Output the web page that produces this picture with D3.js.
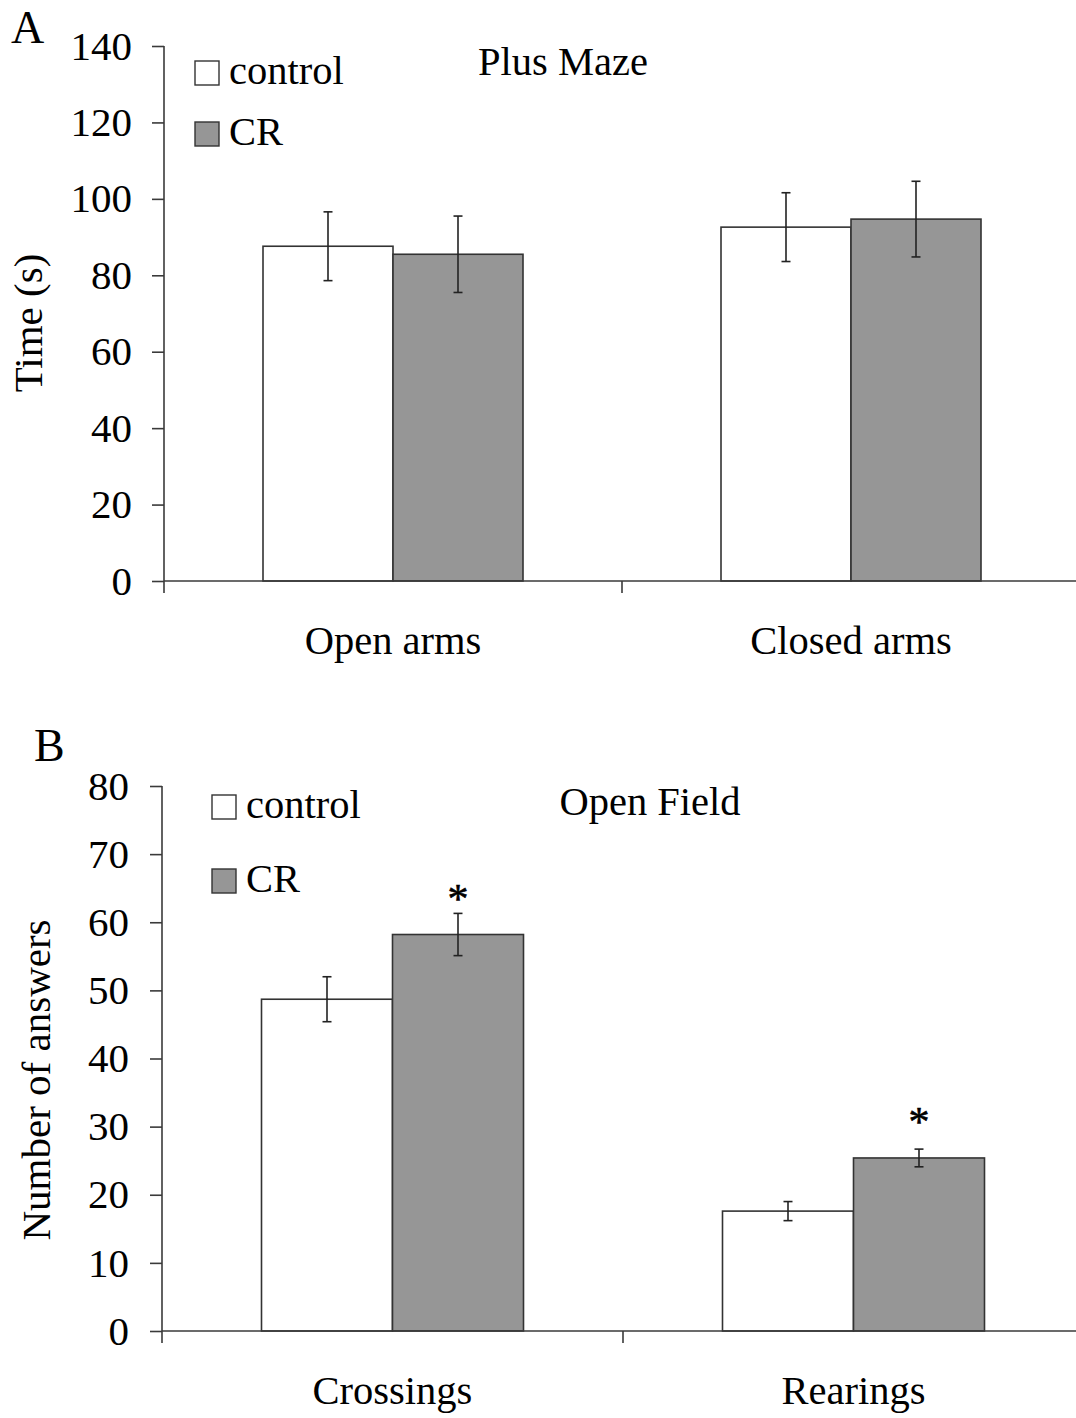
<!DOCTYPE html>
<html>
<head>
<meta charset="utf-8">
<script src="https://cdn.jsdelivr.net/npm/d3@7"></script>
<style>
  html, body { margin: 0; padding: 0; background: #fff; }
  svg { display: block; }
  text { font-family: "Liberation Serif", "Times New Roman", serif; fill: #000; }
</style>
</head>
<body>
<script>
// ---- Data ----
const seriesNames = ["control", "CR"];
const seriesColors = ["#ffffff", "#969696"];

// Panel A: Plus Maze
const categoriesA = ["Open arms", "Closed arms"];
const controlA = [87.6, 92.6];
const controlErrA = [9.0, 9.0];
const crA = [85.5, 94.7];
const crErrA = [10.0, 9.9];
const sigA = [false, false];
const yTicksA = [0, 20, 40, 60, 80, 100, 120, 140];

// Panel B: Open Field
const categoriesB = ["Crossings", "Rearings"];
const controlB = [48.7, 17.6];
const controlErrB = [3.3, 1.4];
const crB = [58.2, 25.4];
const crErrB = [3.1, 1.3];
const sigB = [true, true];
const yTicksB = [0, 10, 20, 30, 40, 50, 60, 70, 80];

const W = 1076, H = 1418;
const svg = d3.select("body").append("svg")
  .attr("width", W).attr("height", H)
  .attr("viewBox", `0 0 ${W} ${H}`);
svg.append("rect").attr("width", W).attr("height", H).attr("fill", "#fff");

const FS = 40.5;
const FT = 41;
const axisColor = "#3a3a3a";

function panel(cfg) {
  const g = svg.append("g");
  const x = d3.scaleBand().domain(cfg.categories)
    .range([cfg.x0, cfg.x1]).paddingInner(cfg.pi).paddingOuter(cfg.pi / 2);
  const xs = d3.scaleBand().domain(seriesNames).range([0, x.bandwidth()]);
  const y = d3.scaleLinear().domain([0, d3.max(cfg.yTicks)]).range([cfg.y0, cfg.y1]);

  const rows = cfg.categories.map((c, i) => ({
    cat: c, sig: cfg.sig[i],
    vals: [
      { s: seriesNames[0], v: cfg.control[i], e: cfg.controlErr[i], color: seriesColors[0] },
      { s: seriesNames[1], v: cfg.cr[i], e: cfg.crErr[i], color: seriesColors[1] }
    ]
  }));

  // bars
  const grp = g.selectAll("g.cat").data(rows).join("g")
    .attr("transform", d => `translate(${x(d.cat)},0)`);
  grp.selectAll("rect").data(d => d.vals).join("rect")
    .attr("x", d => xs(d.s))
    .attr("width", xs.bandwidth())
    .attr("y", d => y(d.v))
    .attr("height", d => y(0) - y(d.v))
    .attr("fill", d => d.color)
    .attr("stroke", "#333")
    .attr("stroke-width", 1.6);

  // error bars
  const cap = 4.5;
  const eb = grp.selectAll("g.eb").data(d => d.vals).join("g").attr("class", "eb")
    .attr("stroke", "#222").attr("stroke-width", 1.6);
  eb.append("line")
    .attr("x1", d => xs(d.s) + xs.bandwidth() / 2).attr("x2", d => xs(d.s) + xs.bandwidth() / 2)
    .attr("y1", d => y(d.v + d.e)).attr("y2", d => y(d.v - d.e));
  eb.append("line")
    .attr("x1", d => xs(d.s) + xs.bandwidth() / 2 - cap).attr("x2", d => xs(d.s) + xs.bandwidth() / 2 + cap)
    .attr("y1", d => y(d.v + d.e)).attr("y2", d => y(d.v + d.e));
  eb.append("line")
    .attr("x1", d => xs(d.s) + xs.bandwidth() / 2 - cap).attr("x2", d => xs(d.s) + xs.bandwidth() / 2 + cap)
    .attr("y1", d => y(d.v - d.e)).attr("y2", d => y(d.v - d.e));

  // significance asterisks
  grp.filter(d => d.sig).append("text")
    .attr("x", d => xs("CR") + xs.bandwidth() / 2)
    .attr("y", d => y(d.vals[1].v) - 22)
    .attr("text-anchor", "middle")
    .attr("font-size", 42)
    .attr("stroke", "#000").attr("stroke-width", 0.6)
    .text("*");

  // y axis
  const yAxis = g.append("g").attr("transform", `translate(${cfg.x0},0)`)
    .call(d3.axisLeft(y).tickValues(cfg.yTicks).tickSize(12).tickPadding(cfg.tp).tickFormat(d3.format("d")));
  yAxis.selectAll("line,path").attr("stroke", axisColor).attr("stroke-width", 1.6);
  yAxis.select(".domain").attr("d", `M0,${cfg.y1}V${cfg.y0}`);
  yAxis.selectAll("text").attr("font-size", FT).attr("font-family", "Liberation Serif, Times New Roman, serif").attr("fill", "#000");

  // x axis (ticks at band boundaries)
  const xa = g.append("g");
  xa.append("line").attr("x1", cfg.x0).attr("x2", W + 10)
    .attr("y1", y(0)).attr("y2", y(0)).attr("stroke", axisColor).attr("stroke-width", 1.6);
  const bounds = [cfg.x0].concat(cfg.categories.map(c => x(c) + x.bandwidth() + x.step() * x.paddingInner() / 2));
  xa.selectAll("line.tk").data(bounds).join("line").attr("class", "tk")
    .attr("x1", d => d).attr("x2", d => d)
    .attr("y1", y(0)).attr("y2", y(0) + 12)
    .attr("stroke", axisColor).attr("stroke-width", 1.6);
  xa.selectAll("text").data(cfg.categories).join("text")
    .attr("x", d => x(d) + x.bandwidth() / 2)
    .attr("y", y(0) + 73)
    .attr("text-anchor", "middle")
    .attr("font-size", FS)
    .text(d => d);

  // y label
  g.append("text")
    .attr("transform", `translate(${cfg.ylx},${cfg.yly}) rotate(-90)`)
    .attr("text-anchor", "middle")
    .attr("font-size", FT)
    .text(cfg.ylabel);

  // title
  g.append("text").attr("x", cfg.tx).attr("y", cfg.ty)
    .attr("text-anchor", "middle").attr("font-size", FS).text(cfg.title);

  // panel letter
  g.append("text").attr("x", cfg.lx).attr("y", cfg.ly)
    .attr("font-size", 46).text(cfg.letter);

  // legend
  const lg = g.append("g");
  seriesNames.forEach((s, i) => {
    const ly = cfg.legY[i];
    lg.append("rect").attr("x", cfg.legX).attr("y", ly).attr("width", 24).attr("height", 24)
      .attr("fill", seriesColors[i]).attr("stroke", "#333").attr("stroke-width", 1.4);
    lg.append("text").attr("x", cfg.legX + 34).attr("y", ly + 23)
      .attr("font-size", FS).text(s);
  });
}

panel({
  categories: categoriesA, control: controlA, controlErr: controlErrA, cr: crA, crErr: crErrA,
  sig: sigA, yTicks: yTicksA,
  x0: 164, x1: 1080, pi: 198 / 458, y0: 581, y1: 46, tp: 20,
  ylabel: "Time (s)", ylx: 42, yly: 323,
  title: "Plus Maze", tx: 563, ty: 75,
  letter: "A", lx: 11, ly: 43,
  legX: 195, legY: [61, 122]
});

panel({
  categories: categoriesB, control: controlB, controlErr: controlErrB, cr: crB, crErr: crErrB,
  sig: sigB, yTicks: yTicksB,
  x0: 162, x1: 1084, pi: 199 / 461, y0: 1331, y1: 786, tp: 21,
  ylabel: "Number of answers", ylx: 50, yly: 1080,
  title: "Open Field", tx: 650, ty: 815,
  letter: "B", lx: 34, ly: 761,
  legX: 212, legY: [795, 869]
});
</script>
</body>
</html>
